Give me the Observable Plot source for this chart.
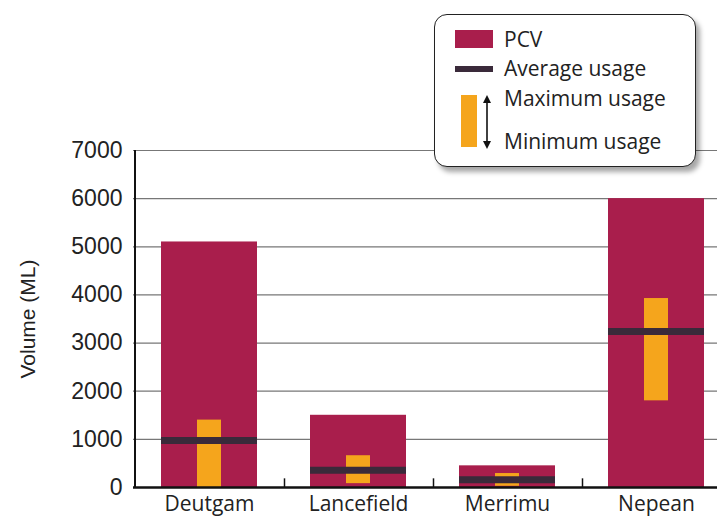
<!DOCTYPE html>
<html>
<head>
<meta charset="utf-8">
<script src="https://cdn.jsdelivr.net/npm/d3@7"></script>
<script src="https://cdn.jsdelivr.net/npm/@observablehq/plot@0.6"></script>
<style>
  html, body { margin: 0; padding: 0; background: #fff; }
  #wrap { position: relative; width: 717px; height: 516px; overflow: hidden; }
  #legend { position: absolute; left: 434px; top: 14px; width: 260px; height: 151px;
    border: 1.8px solid #222; border-radius: 13px; background: #fff;
    box-shadow: 4px 5px 5px rgba(0,0,0,0.35); }
  .lt { position: absolute; font-family: "Open Sans", sans-serif; font-size: 21px; line-height: 21px; color: #222; white-space: nowrap; }
  .sw { position: absolute; }
</style>
</head>
<body>
<div id="wrap"></div>
<script>
const categories = ["Deutgam", "Lancefield", "Merrimu", "Nepean"];
const pcv = [5100, 1500, 450, 6000];
const avgUsage = [975, 360, 160, 3240];
const maxUsage = [1400, 660, 290, 3925];
const minUsage = [0, 80, 25, 1800];
const yTicks = [0, 1000, 2000, 3000, 4000, 5000, 6000, 7000];
const legendLabels = ["PCV", "Average usage", "Maximum usage", "Minimum usage"];
const yLabel = "Volume (ML)";

const colors = { pcv: "#a91e4c", range: "#f5a51c", avg: "#3a2a3a" };

const data = categories.map((c, i) => ({ cat: c, pcv: pcv[i], avg: avgUsage[i], max: maxUsage[i], min: minUsage[i] }));

const chart = Plot.plot({
  width: 717, height: 516,
  marginLeft: 133, marginTop: 150, marginBottom: 29, marginRight: 0,
  x: { domain: categories, range: [133, 733], paddingInner: 0.353, paddingOuter: 0.1767, axis: null },
  y: { domain: [0, 7000], axis: null },
  style: { fontFamily: "Open Sans", background: "white", overflow: "hidden" },
  marks: [
    Plot.ruleY(yTicks.slice(1), { stroke: "#777", strokeWidth: 1.2 }),
    Plot.barY(data, { x: "cat", y: "pcv", fill: colors.pcv }),
    Plot.barY(data, { x: "cat", y1: "min", y2: "max", fill: colors.range, insetLeft: 36, insetRight: 36 }),
    Plot.tickY(data, { x: "cat", y: "avg", stroke: colors.avg, strokeWidth: 7 }),
    Plot.ruleY([0], { stroke: "#111", strokeWidth: 2.5 }),
    Plot.ruleX([categories[0]], { dx: -74.5, stroke: "#111", strokeWidth: 2 }),
    Plot.ruleX(categories, { dx: 75, y1: 0, y2: 180, stroke: "#111", strokeWidth: 1.5 }),
    Plot.axisY(yTicks, { tickSize: 0, tickPadding: 11, tickFormat: d3.format("d"), fontSize: 23, fontFamily: "Liberation Sans", color: "#222", label: null }),
    Plot.axisX({ tickSize: 0, tickPadding: 9, fontSize: 21, fontFamily: "Open Sans", color: "#222", label: null }),
    Plot.text([yLabel], { frameAnchor: "left", textAnchor: "middle", dx: -105, rotate: -90, fontSize: 21, fontFamily: "Liberation Sans", fill: "#222" })
  ]
});

const wrap = document.getElementById("wrap");
wrap.appendChild(chart);

const legend = document.createElement("div");
legend.id = "legend";
legend.innerHTML = `
  <div class="sw" style="left:20px;top:15px;width:38px;height:18px;background:${colors.pcv}"></div>
  <div class="lt" style="left:69px;top:14px">${legendLabels[0]}</div>
  <div class="sw" style="left:20px;top:51px;width:38px;height:6px;background:${colors.avg}"></div>
  <div class="lt" style="left:69px;top:43px">${legendLabels[1]}</div>
  <div class="sw" style="left:26px;top:80px;width:16px;height:52px;background:${colors.range}"></div>
  <svg class="sw" style="left:46px;top:80px" width="12" height="54" viewBox="0 0 12 54">
    <line x1="6" y1="6" x2="6" y2="48" stroke="#111" stroke-width="1.6"/>
    <path d="M2,8 L6,0 L10,8 Z" fill="#111"/>
    <path d="M2,46 L6,54 L10,46 Z" fill="#111"/>
  </svg>
  <div class="lt" style="left:69px;top:73px">${legendLabels[2]}</div>
  <div class="lt" style="left:69px;top:116px">${legendLabels[3]}</div>
`;
wrap.appendChild(legend);
</script>
</body>
</html>
